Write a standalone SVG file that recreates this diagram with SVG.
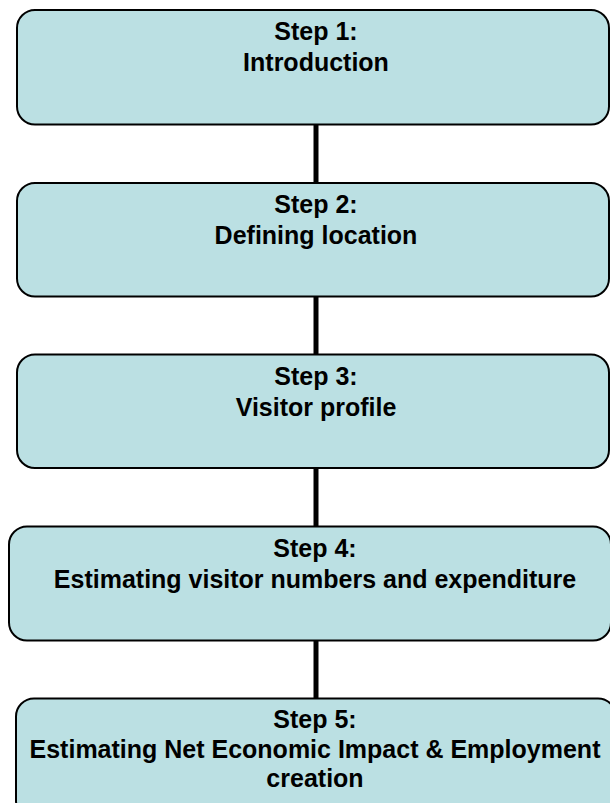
<svg xmlns="http://www.w3.org/2000/svg" width="610" height="803" viewBox="0 0 610 803">
<style>
.box{fill:#BBE0E3;stroke:#000;stroke-width:2}
.t{font-family:"Liberation Sans",Arial,sans-serif;font-weight:bold;font-size:25px;fill:#000;text-anchor:middle}
.c{stroke:#000;stroke-width:5}
</style>
<rect width="610" height="803" fill="#fff"/>
<g id="connectors">
<line class="c" x1="316" y1="124" x2="316" y2="183"/>
<line class="c" x1="316" y1="296" x2="316" y2="355"/>
<line class="c" x1="316" y1="468" x2="316" y2="527"/>
<line class="c" x1="316" y1="640" x2="316" y2="699"/>
</g>
<g id="step1">
<rect class="box" x="17" y="10" width="592" height="114.5" rx="18"/>
<text class="t" x="316" y="40">Step 1:</text>
<text class="t" x="316" y="71">Introduction</text>
</g>
<g id="step2">
<rect class="box" x="17" y="183" width="592" height="113.5" rx="18"/>
<text class="t" x="316" y="213">Step 2:</text>
<text class="t" x="316" y="244">Defining location</text>
</g>
<g id="step3">
<rect class="box" x="17" y="354.5" width="592" height="113.5" rx="18"/>
<text class="t" x="316" y="385">Step 3:</text>
<text class="t" x="316" y="416">Visitor profile</text>
</g>
<g id="step4">
<rect class="box" x="9" y="526.5" width="602" height="114" rx="18"/>
<text class="t" x="315" y="557">Step 4:</text>
<text class="t" x="315" y="588">Estimating visitor numbers and expenditure</text>
</g>
<g id="step5">
<rect class="box" x="16" y="698.5" width="600" height="120" rx="18"/>
<text class="t" x="315" y="728">Step 5:</text>
<text class="t" x="315" y="758">Estimating Net Economic Impact &amp; Employment</text>
<text class="t" x="315" y="787">creation</text>
</g>
</svg>
